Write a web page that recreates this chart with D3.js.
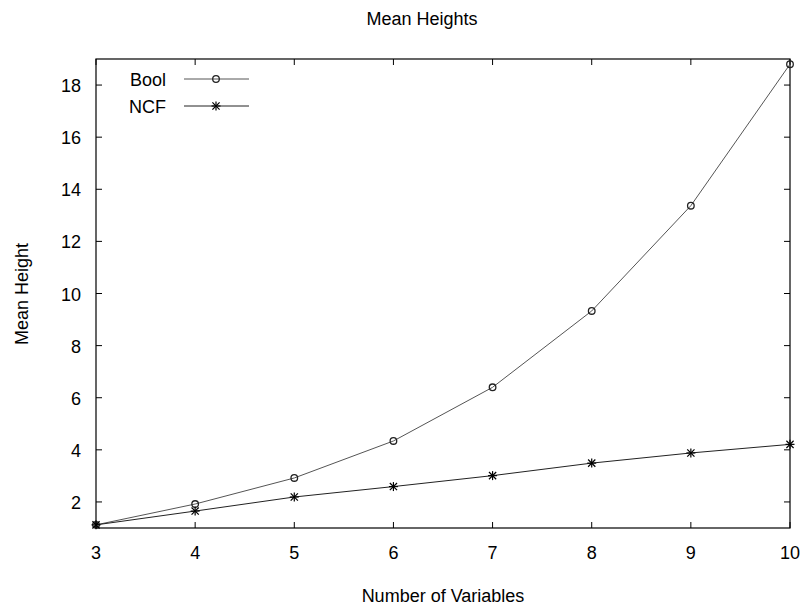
<!DOCTYPE html>
<html><head><meta charset="utf-8">
<script src="https://cdn.jsdelivr.net/npm/d3@7"></script>
<style>body{margin:0;background:#fff}svg{display:block}text{font-family:"Liberation Sans",Arial,sans-serif;fill:#000}</style>
</head><body>
<script>
const variables = [3, 4, 5, 6, 7, 8, 9, 10];
const boolHeights = [1.12, 1.92, 2.92, 4.34, 6.40, 9.33, 13.37, 18.8];
const ncfHeights = [1.12, 1.65, 2.19, 2.59, 3.01, 3.49, 3.88, 4.21];
const xTicks = [3, 4, 5, 6, 7, 8, 9, 10];
const yTicks = [2, 4, 6, 8, 10, 12, 14, 16, 18];
const seriesNames = ["Bool", "NCF"];

const W = 803, H = 609;
const L = 96, R = 790, T = 59, B = 528;
const FS = 18;
const svg = d3.select("body").append("svg").attr("width", W).attr("height", H);
const x = d3.scaleLinear().domain([3, 10]).range([L, R]);
const y = d3.scaleLinear().domain([1, 19]).range([B, T]);

svg.append("rect").attr("x", L).attr("y", T).attr("width", R - L).attr("height", B - T)
  .attr("fill", "none").attr("stroke", "#000").attr("stroke-width", 1.2);

const tl = 6;
const g = svg.append("g").attr("stroke", "#000").attr("stroke-width", 1);
xTicks.forEach(v => {
  g.append("line").attr("x1", x(v)).attr("x2", x(v)).attr("y1", B).attr("y2", B - tl);
  g.append("line").attr("x1", x(v)).attr("x2", x(v)).attr("y1", T).attr("y2", T + tl);
  svg.append("text").attr("x", x(v)).attr("y", B + 31).attr("text-anchor", "middle")
    .attr("font-size", FS).text(v);
});
yTicks.forEach(v => {
  g.append("line").attr("x1", L).attr("x2", L + tl).attr("y1", y(v)).attr("y2", y(v));
  g.append("line").attr("x1", R).attr("x2", R - tl).attr("y1", y(v)).attr("y2", y(v));
  svg.append("text").attr("x", L - 15).attr("y", y(v) + 7).attr("text-anchor", "end")
    .attr("font-size", FS).text(v);
});

svg.append("text").attr("x", 422).attr("y", 25).attr("text-anchor", "middle").attr("font-size", FS).text("Mean Heights");
svg.append("text").attr("x", 443).attr("y", 602).attr("text-anchor", "middle").attr("font-size", FS).text("Number of Variables");
svg.append("text").attr("transform", "translate(28,294) rotate(-90)").attr("text-anchor", "middle").attr("font-size", FS).text("Mean Height");

const line = d3.line().x(d => x(d[0])).y(d => y(d[1]));
const boolData = variables.map((v, i) => [v, boolHeights[i]]);
const ncfData = variables.map((v, i) => [v, ncfHeights[i]]);

function circleMarker(sel, cx, cy) {
  sel.append("circle").attr("cx", cx).attr("cy", cy).attr("r", 3.3)
    .attr("fill", "none").attr("stroke", "#222").attr("stroke-width", 1.3);
}
function starMarker(sel, cx, cy) {
  const s = 4.5;
  const p = sel.append("g").attr("stroke", "#000").attr("stroke-width", 1.2);
  p.append("line").attr("x1", cx - s).attr("x2", cx + s).attr("y1", cy).attr("y2", cy);
  p.append("line").attr("x1", cx).attr("x2", cx).attr("y1", cy - s).attr("y2", cy + s);
  p.append("line").attr("x1", cx - s * 0.8).attr("x2", cx + s * 0.8).attr("y1", cy - s * 0.8).attr("y2", cy + s * 0.8);
  p.append("line").attr("x1", cx - s * 0.8).attr("x2", cx + s * 0.8).attr("y1", cy + s * 0.8).attr("y2", cy - s * 0.8);
}

svg.append("path").datum(boolData).attr("d", line).attr("fill", "none").attr("stroke", "#555").attr("stroke-width", 1);
svg.append("path").datum(ncfData).attr("d", line).attr("fill", "none").attr("stroke", "#222").attr("stroke-width", 1);
boolData.forEach(d => circleMarker(svg, x(d[0]), y(d[1])));
ncfData.forEach(d => starMarker(svg, x(d[0]), y(d[1])));

const legY = [79, 106];
seriesNames.forEach((n, i) => {
  svg.append("text").attr("x", 166).attr("y", legY[i] + 7).attr("text-anchor", "end").attr("font-size", FS).text(n);
  svg.append("line").attr("x1", 184).attr("x2", 249).attr("y1", legY[i]).attr("y2", legY[i])
    .attr("stroke", i === 0 ? "#555" : "#222").attr("stroke-width", 1);
  if (i === 0) circleMarker(svg, 216, legY[i]); else starMarker(svg, 216, legY[i]);
});
</script>
</body></html>
